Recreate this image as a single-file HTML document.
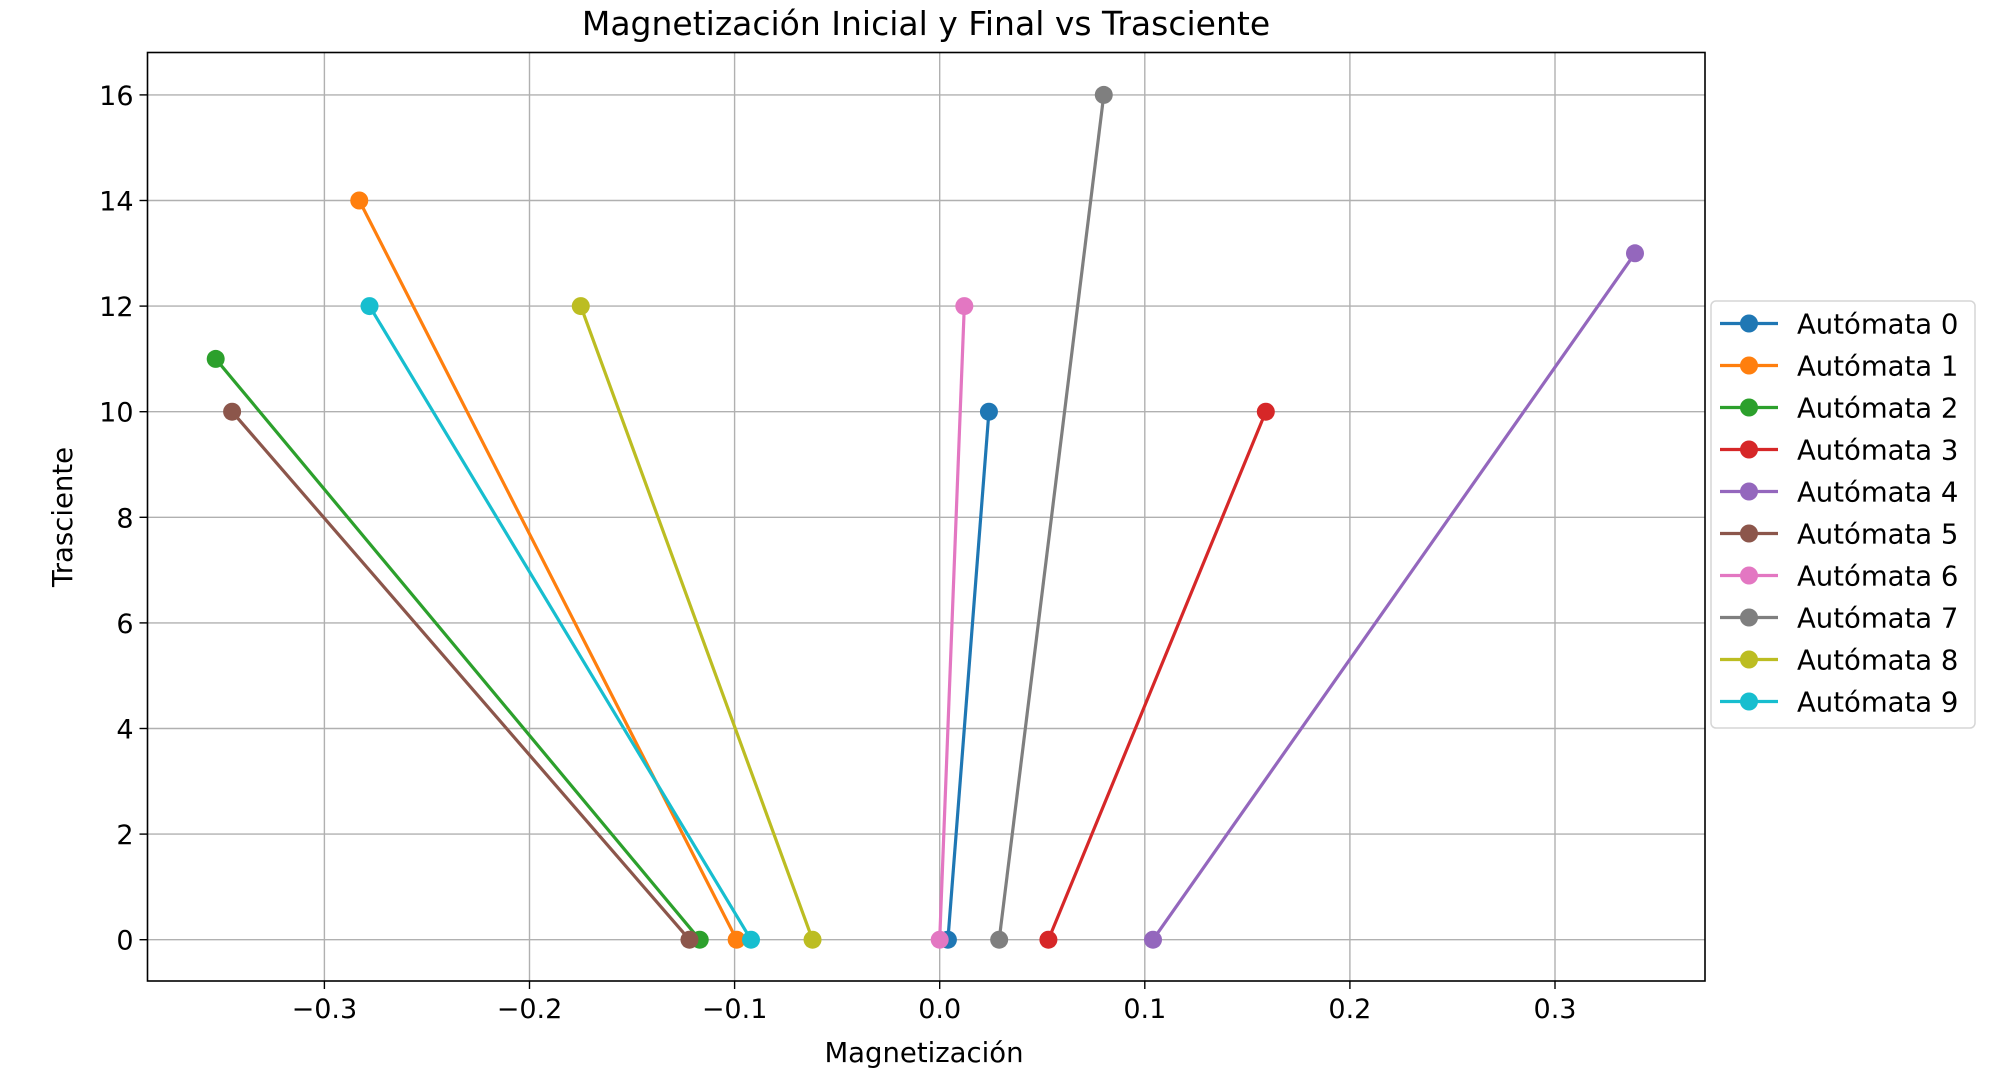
<!DOCTYPE html>
<html><head><meta charset="utf-8"><style>
html,body{margin:0;padding:0;background:#fff;}
svg{display:block;font-family:"DejaVu Sans","Liberation Sans",sans-serif;}
</style></head><body>
<svg id="chart" width="2000" height="1078" viewBox="0 0 2000 1078" xmlns="http://www.w3.org/2000/svg">
<rect x="0" y="0" width="2000" height="1078" fill="#fff"/>
<g id="grid"></g>
<g id="series"></g>
<rect x="147.5" y="52.5" width="1557.5" height="928.5" fill="none" stroke="#000" stroke-width="1.6"/>
<g id="axes"></g>
<text x="926" y="35" font-size="33" text-anchor="middle" fill="#000">Magnetización Inicial y Final vs Trasciente</text>
<text x="924" y="1062" font-size="27.5" text-anchor="middle" fill="#000">Magnetización</text>
<text transform="translate(72,517) rotate(-90)" font-size="27.5" text-anchor="middle" fill="#000">Trasciente</text>
<g id="legend"></g>
</svg>
<script>
const names = ["Autómata 0","Autómata 1","Autómata 2","Autómata 3","Autómata 4","Autómata 5","Autómata 6","Autómata 7","Autómata 8","Autómata 9"];
const colors = ["#1f77b4","#ff7f0e","#2ca02c","#d62728","#9467bd","#8c564b","#e377c2","#7f7f7f","#bcbd22","#17becf"];
const magInicial = [0.004,-0.099,-0.117,0.053,0.104,-0.122,0.000,0.029,-0.062,-0.092];
const magFinal = [0.024,-0.283,-0.353,0.159,0.339,-0.345,0.012,0.080,-0.175,-0.278];
const trasInicial = [0,0,0,0,0,0,0,0,0,0];
const trasFinal = [10,14,11,10,13,10,12,16,12,12];
const xTicks = [-0.3,-0.2,-0.1,0.0,0.1,0.2,0.3];
const xTickLabels = ["\u22120.3","\u22120.2","\u22120.1","0.0","0.1","0.2","0.3"];
const yTicks = [0,2,4,6,8,10,12,14,16];

const NS="http://www.w3.org/2000/svg";
const L=147.5,R=1705,T=52.5,B=981;
function xs(v){return 939.7+v*2051;}
function ys(v){return 939.7-v*52.8;}
function mk(tag,attrs,parent){const e=document.createElementNS(NS,tag);for(const k in attrs)e.setAttribute(k,attrs[k]);parent.appendChild(e);return e;}
const grid=document.getElementById('grid'),axes=document.getElementById('axes'),series=document.getElementById('series'),legend=document.getElementById('legend');
xTicks.forEach((t,i)=>{
  const x=xs(t);
  const g=mk('line',{x1:x,x2:x,y1:T,y2:B,stroke:'#b0b0b0','stroke-width':1.4},grid);
  
  
  const tk=mk('line',{x1:x,x2:x,y1:B,y2:B+8,stroke:'#000','stroke-width':1.4},axes);
  
  
  const tx=mk('text',{x:x,y:B+37,'font-size':27,'text-anchor':'middle',fill:'#000'},axes);
  tx.textContent=xTickLabels[i];
  
  
});
yTicks.forEach(t=>{
  const y=ys(t);
  const g=mk('line',{x1:L,x2:R,y1:y,y2:y,stroke:'#b0b0b0','stroke-width':1.4},grid);
  
  
  const tk=mk('line',{x1:L-8,x2:L,y1:y,y2:y,stroke:'#000','stroke-width':1.4},axes);
  
  
  const tx=mk('text',{x:L-14,y:y+10,'font-size':27,'text-anchor':'end',fill:'#000'},axes);
  tx.textContent=String(t);
  
  
});
names.forEach((n,i)=>{
  const g=mk('g',{},series);
  
  
  const ln=mk('line',{x1:xs(magInicial[i]),y1:ys(trasInicial[i]),x2:xs(magFinal[i]),y2:ys(trasFinal[i]),stroke:colors[i],'stroke-width':3.2},g);
  
  
  [[magInicial[i],trasInicial[i]],[magFinal[i],trasFinal[i]]].forEach(p=>{
    const c=mk('circle',{cx:xs(p[0]),cy:ys(p[1]),r:9,fill:colors[i]},g);
    
    
  });
});
const box=mk('rect',{x:1711,y:301,width:264,height:427,rx:5,fill:'#fff','fill-opacity':0.8,stroke:'#d6d6d6','stroke-width':1.5},legend);


names.forEach((n,i)=>{
  const y=323.5+i*42;
  const g=mk('g',{},legend);
  
  
  mk('line',{x1:1720,x2:1778,y1:y,y2:y,stroke:colors[i],'stroke-width':3.2},g);
  mk('circle',{cx:1749,cy:y,r:9,fill:colors[i]},g);
  const t=mk('text',{x:1797,y:y+10,'font-size':27.5,fill:'#000'},g);
  t.textContent=n;
});
</script>
</body></html>
